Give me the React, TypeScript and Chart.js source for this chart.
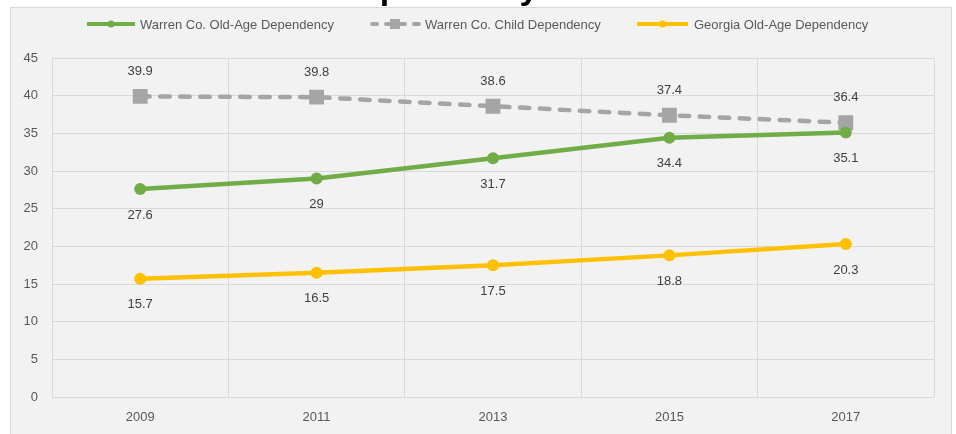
import React, { useEffect, useRef } from "react";
import { Chart, registerables } from "chart.js";

Chart.register(...registerables);

const years = ["2009", "2011", "2013", "2015", "2017"];
const warrenOldAge = [27.6, 29, 31.7, 34.4, 35.1];
const warrenChild = [39.9, 39.8, 38.6, 37.4, 36.4];
const georgiaOldAge = [15.7, 16.5, 17.5, 18.8, 20.3];
const seriesNames = [
  "Warren Co. Old-Age Dependency",
  "Warren Co. Child Dependency",
  "Georgia Old-Age Dependency",
];
const titleText = "Dependency Ratios";
const yMin = 0;
const yMax = 45;
const yStep = 5;

const FONT = "'Liberation Sans', Arial, sans-serif";
const GREEN = "#70AD47";
const GRAY = "#A5A5A5";
const YELLOW = "#FFC000";

const framePlugin = {
  id: "frame",
  beforeDraw(chart: any) {
    const ctx = chart.ctx;
    ctx.save();
    ctx.fillStyle = "#FFFFFF";
    ctx.fillRect(0, 0, chart.width, chart.height);
    ctx.fillStyle = "#000000";
    ctx.font = `bold 34px ${FONT}`;
    ctx.textAlign = "center";
    ctx.textBaseline = "alphabetic";
    ctx.fillText(titleText, 494, -1);
    ctx.fillStyle = "#F2F2F2";
    ctx.fillRect(10.5, 7.5, 941, 430);
    ctx.strokeStyle = "#D9D9D9";
    ctx.lineWidth = 1;
    ctx.strokeRect(10.5, 7.5, 941, 430);
    ctx.restore();
  },
};

const labelPlugin = {
  id: "valueLabels",
  afterDatasetsDraw(chart: any) {
    const ctx = chart.ctx;
    ctx.save();
    ctx.font = `13px ${FONT}`;
    ctx.fillStyle = "#404040";
    ctx.textAlign = "center";
    ctx.textBaseline = "middle";
    chart.data.datasets.forEach((ds: any, i: number) => {
      const meta = chart.getDatasetMeta(i);
      const above = ds.labelPos === "above";
      meta.data.forEach((pt: any, j: number) => {
        const v = ds.data[j];
        const y = above ? pt.y - 25 : pt.y + 26;
        ctx.fillText(String(v), pt.x, y);
      });
    });
    ctx.restore();
  },
};

const legendPlugin = {
  id: "customLegend",
  afterDraw(chart: any) {
    const ctx = chart.ctx;
    ctx.save();
    const y = 24;
    const items = [
      { x0: 87, x1: 135, color: GREEN, dash: false, marker: "circle", tx: 140 },
      { x0: 370, x1: 420, color: GRAY, dash: true, marker: "rect", tx: 425 },
      { x0: 637, x1: 688, color: YELLOW, dash: false, marker: "circle", tx: 694 },
    ];
    items.forEach((it, i) => {
      ctx.strokeStyle = it.color;
      ctx.lineWidth = 4;
      ctx.lineCap = it.dash ? "round" : "butt";
      ctx.setLineDash(it.dash ? [5, 9] : []);
      ctx.beginPath();
      ctx.moveTo(it.x0 + (it.dash ? 2 : 0), y);
      ctx.lineTo(it.x1, y);
      ctx.stroke();
      ctx.setLineDash([]);
      ctx.fillStyle = it.color;
      const cx = (it.x0 + it.x1) / 2;
      if (it.marker === "circle") {
        ctx.beginPath();
        ctx.arc(cx, y, 3.5, 0, Math.PI * 2);
        ctx.fill();
      } else {
        ctx.fillRect(cx - 5, y - 5, 10, 10);
      }
      ctx.fillStyle = "#595959";
      ctx.font = `13px ${FONT}`;
      ctx.textAlign = "left";
      ctx.textBaseline = "middle";
      ctx.fillText(seriesNames[i], it.tx, y + 1);
    });
    ctx.restore();
  },
};

export default function App() {
  const ref = useRef<HTMLCanvasElement | null>(null);
  useEffect(() => {
    if (!ref.current) return;
    const chart = new Chart(ref.current, {
      type: "line",
      data: {
        labels: years,
        datasets: [
          {
            label: seriesNames[0],
            data: warrenOldAge,
            borderColor: GREEN,
            backgroundColor: GREEN,
            borderWidth: 4.5,
            pointRadius: 6,
            pointStyle: "circle",
            pointBorderWidth: 0,
            tension: 0,
            labelPos: "below",
          } as any,
          {
            label: seriesNames[1],
            data: warrenChild,
            borderColor: GRAY,
            backgroundColor: GRAY,
            borderWidth: 4.5,
            borderDash: [9.5, 10.5],
            borderCapStyle: "round",
            pointRadius: 10.5,
            pointStyle: "rect",
            pointBorderWidth: 0,
            tension: 0,
            labelPos: "above",
          } as any,
          {
            label: seriesNames[2],
            data: georgiaOldAge,
            borderColor: YELLOW,
            backgroundColor: YELLOW,
            borderWidth: 4.5,
            pointRadius: 6,
            pointStyle: "circle",
            pointBorderWidth: 0,
            tension: 0,
            labelPos: "below",
          } as any,
        ],
      },
      options: {
        responsive: false,
        animation: false,
        layout: { padding: { top: 58, right: 22, left: 0, bottom: 0 } },
        plugins: {
          legend: { display: false },
          tooltip: { enabled: false },
          title: { display: false },
        },
        scales: {
          x: {
            offset: true,
            grid: { offset: true, color: "#D9D9D9", drawTicks: false, lineWidth: 1 },
            border: { display: false },
            ticks: {
              color: "#595959",
              font: { family: FONT, size: 13 },
              padding: 13,
              maxRotation: 0,
            },
            afterFit: (scale: any) => {
              scale.height = 37;
            },
          },
          y: {
            min: yMin,
            max: yMax,
            grid: { color: "#D9D9D9", drawTicks: false, lineWidth: 1 },
            border: { display: false },
            ticks: {
              stepSize: yStep,
              color: "#595959",
              font: { family: FONT, size: 13 },
              padding: 14,
            },
            afterFit: (scale: any) => {
              scale.width = 52;
            },
          },
        },
      },
      plugins: [framePlugin, labelPlugin, legendPlugin],
    });
    return () => chart.destroy();
  }, []);
  return (
    <div
      style={{
        position: "fixed",
        left: 0,
        top: 0,
        width: 956,
        height: 434,
        background: "#fff",
      }}
    >
      <canvas ref={ref} width={956} height={434} style={{ display: "block" }} />
    </div>
  );
}
